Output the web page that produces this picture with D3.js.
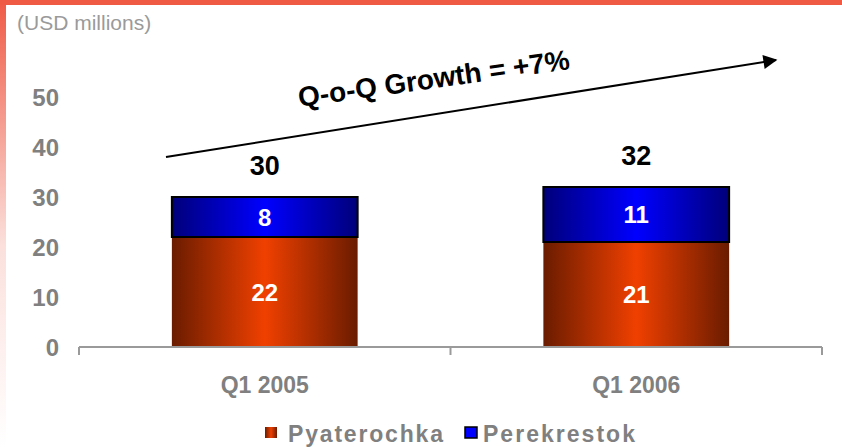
<!DOCTYPE html>
<html>
<head>
<meta charset="utf-8">
<script src="https://cdn.jsdelivr.net/npm/d3@7"></script>
<style>
  body { margin: 0; background: #fff; }
  svg { display: block; font-family: Arial, "Liberation Sans", sans-serif; }
</style>
</head>
<body>
<div id="chart"></div>
<script>
// chart data
const categories = ["Q1 2005", "Q1 2006"];
const pyaterochka = [22, 21];
const perekrestok = [8, 11];
const totals = [30, 32];
const yTicks = [0, 10, 20, 30, 40, 50];
const seriesNames = ["Pyaterochka", "Perekrestok"];
const growthLabel = "Q-o-Q Growth = +7%";
const unitLabel = "(USD millions)";

const width = 842;
const height = 447;

const svg = d3.select("#chart")
  .append("svg")
  .attr("width", width)
  .attr("height", height);

const defs = svg.append("defs");

// gradients for the bars (dark edges, bright middle)
function barGradient(id, edge, mid) {
  const g = defs.append("linearGradient")
    .attr("id", id)
    .attr("x1", "0%").attr("x2", "100%")
    .attr("y1", "0%").attr("y2", "0%");
  g.append("stop").attr("offset", "0%").attr("stop-color", edge);
  g.append("stop").attr("offset", "50%").attr("stop-color", mid);
  g.append("stop").attr("offset", "100%").attr("stop-color", edge);
}
barGradient("redGrad", "#6a1c00", "#f04000");
barGradient("blueGrad", "#00007a", "#0000ff");

const frameGrad = defs.append("linearGradient")
  .attr("id", "frameGrad")
  .attr("x1", "0%").attr("x2", "0%")
  .attr("y1", "0%").attr("y2", "100%");
frameGrad.append("stop").attr("offset", "0%").attr("stop-color", "#ef5a45");
frameGrad.append("stop").attr("offset", "55%").attr("stop-color", "#fbe0dc");
frameGrad.append("stop").attr("offset", "100%").attr("stop-color", "#ffffff");

// frame: red bar on top, fading bar on the left
svg.append("rect")
  .attr("x", 0).attr("y", 0)
  .attr("width", 6).attr("height", height)
  .attr("fill", "url(#frameGrad)");
svg.append("rect")
  .attr("x", 0).attr("y", 0)
  .attr("width", width).attr("height", 5)
  .attr("fill", "#ef5a45");

svg.append("text")
  .attr("x", 17)
  .attr("y", 30)
  .attr("font-size", 21)
  .attr("fill", "#9a9a9a")
  .text(unitLabel);

// scales
const x = d3.scaleBand()
  .domain(categories)
  .range([79, 822])
  .paddingInner(0.5)
  .paddingOuter(0.25);

const y = d3.scaleLinear()
  .domain([0, 50])
  .range([347, 97]);

// y tick labels (no axis line)
svg.append("g")
  .selectAll("text")
  .data(yTicks)
  .enter()
  .append("text")
  .attr("x", 59)
  .attr("y", d => y(d))
  .attr("dy", "0.36em")
  .attr("text-anchor", "end")
  .attr("font-size", 24)
  .attr("font-weight", "bold")
  .attr("fill", "#808080")
  .text(d => d);

// stacked bars
const bars = svg.append("g");

bars.selectAll("rect.pyat")
  .data(categories)
  .enter()
  .append("rect")
  .attr("class", "pyat")
  .attr("x", d => x(d))
  .attr("width", x.bandwidth())
  .attr("y", (d, i) => y(pyaterochka[i]))
  .attr("height", (d, i) => y(0) - y(pyaterochka[i]))
  .attr("fill", "url(#redGrad)");

bars.selectAll("rect.pere")
  .data(categories)
  .enter()
  .append("rect")
  .attr("class", "pere")
  .attr("x", d => x(d))
  .attr("width", x.bandwidth())
  .attr("y", (d, i) => y(pyaterochka[i] + perekrestok[i]))
  .attr("height", (d, i) => y(pyaterochka[i]) - y(pyaterochka[i] + perekrestok[i]))
  .attr("fill", "url(#blueGrad)")
  .attr("stroke", "#000")
  .attr("stroke-width", 2);

// segment labels
bars.selectAll("text.pyatLbl")
  .data(categories)
  .enter()
  .append("text")
  .attr("x", d => x(d) + x.bandwidth() / 2)
  .attr("y", (d, i) => y(pyaterochka[i] / 2))
  .attr("dy", "0.36em")
  .attr("text-anchor", "middle")
  .attr("font-size", 24)
  .attr("font-weight", "bold")
  .attr("fill", "#fff")
  .text((d, i) => pyaterochka[i]);

bars.selectAll("text.pereLbl")
  .data(categories)
  .enter()
  .append("text")
  .attr("x", d => x(d) + x.bandwidth() / 2)
  .attr("y", (d, i) => y(pyaterochka[i] + perekrestok[i] / 2))
  .attr("dy", "0.36em")
  .attr("text-anchor", "middle")
  .attr("font-size", 24)
  .attr("font-weight", "bold")
  .attr("fill", "#fff")
  .text((d, i) => perekrestok[i]);

// totals above bars
bars.selectAll("text.total")
  .data(categories)
  .enter()
  .append("text")
  .attr("x", d => x(d) + x.bandwidth() / 2)
  .attr("y", (d, i) => y(totals[i]) - 22)
  .attr("text-anchor", "middle")
  .attr("font-size", 27)
  .attr("font-weight", "bold")
  .attr("fill", "#000")
  .text((d, i) => totals[i]);

// x axis: baseline with ticks at band boundaries
const axis = svg.append("g").attr("stroke", "#9a9a9a").attr("stroke-width", 2);
const x0 = x.range()[0];
const x1 = x.range()[1];
axis.append("line")
  .attr("x1", x0).attr("x2", x1)
  .attr("y1", y(0)).attr("y2", y(0));
d3.range(categories.length + 1).forEach(i => {
  const tx = x0 + i * x.step();
  axis.append("line")
    .attr("x1", tx).attr("x2", tx)
    .attr("y1", y(0)).attr("y2", y(0) + 8);
});

svg.append("g")
  .selectAll("text")
  .data(categories)
  .enter()
  .append("text")
  .attr("x", d => x(d) + x.bandwidth() / 2)
  .attr("y", 393)
  .attr("text-anchor", "middle")
  .attr("font-size", 23)
  .attr("font-weight", "bold")
  .attr("fill", "#808080")
  .text(d => d);

// growth arrow
defs.append("marker")
  .attr("id", "arrowHead")
  .attr("viewBox", "0 0 10 10")
  .attr("refX", 9)
  .attr("refY", 5)
  .attr("markerWidth", 10)
  .attr("markerHeight", 7)
  .attr("markerUnits", "strokeWidth")
  .attr("orient", "auto")
  .append("path")
  .attr("d", "M0,0 L10,5 L0,10 Z")
  .attr("fill", "#000");

svg.append("line")
  .attr("x1", 166).attr("y1", 157)
  .attr("x2", 776).attr("y2", 60)
  .attr("stroke", "#000")
  .attr("stroke-width", 2)
  .attr("marker-end", "url(#arrowHead)");

svg.append("text")
  .attr("transform", "translate(435,88) rotate(-8)")
  .attr("text-anchor", "middle")
  .attr("font-size", 28)
  .attr("font-weight", "bold")
  .attr("fill", "#000")
  .text(growthLabel);

// legend
const legend = svg.append("g");
const legendItems = [
  { name: seriesNames[0], fill: "url(#redGrad)", stroke: "none", x: 265, tx: 288, w: 155 },
  { name: seriesNames[1], fill: "#0000ff", stroke: "#000", x: 465, tx: 483, w: 152 }
];
legendItems.forEach(item => {
  legend.append("rect")
    .attr("x", item.x).attr("y", 427)
    .attr("width", 12).attr("height", 11)
    .attr("fill", item.fill)
    .attr("stroke", item.stroke)
    .attr("stroke-width", 1.5);
  legend.append("text")
    .attr("x", item.tx)
    .attr("y", 442)
    .attr("font-size", 23)
    .attr("font-weight", "bold")
    .attr("fill", "#808080")
    .attr("textLength", item.w)
    .attr("lengthAdjust", "spacing")
    .text(item.name);
});
</script>
</body>
</html>
